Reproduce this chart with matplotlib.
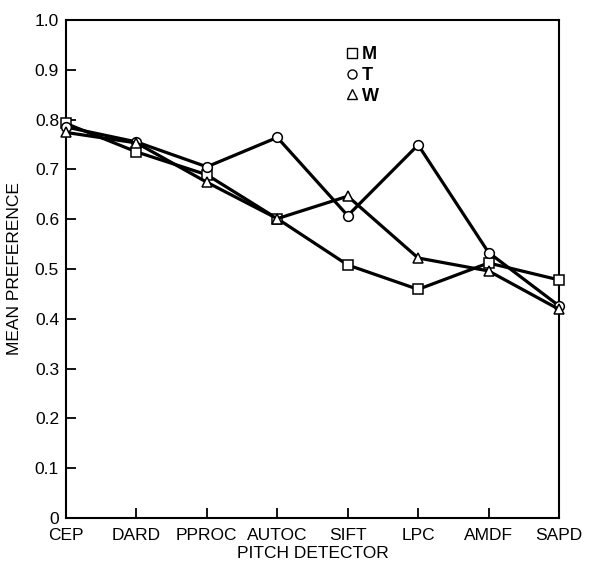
import numpy as np
import matplotlib.pyplot as plt
from matplotlib.lines import Line2D

# mean preference per pitch detector
detectors = ["CEP", "DARD", "PPROC", "AUTOC", "SIFT", "LPC", "AMDF", "SAPD"]
pref_M = [0.792, 0.735, 0.689, 0.601, 0.508, 0.459, 0.512, 0.478]
pref_T = [0.785, 0.755, 0.705, 0.764, 0.607, 0.749, 0.533, 0.426]
pref_W = [0.774, 0.753, 0.674, 0.601, 0.646, 0.522, 0.496, 0.419]

plt.rcParams['font.family'] = ['Liberation Sans', 'DejaVu Sans']

fig = plt.figure(figsize=(5.97, 5.68), dpi=100)
ax = fig.add_axes([0.1106, 0.088, 0.8257, 0.877])

x = np.arange(len(detectors))
series = [("M", pref_M, 's'), ("T", pref_T, 'o'), ("W", pref_W, '^')]
for name, vals, mk in series:
    ax.plot(x, vals, color='black', linewidth=2.3, marker=mk, markersize=7,
            markerfacecolor='white', markeredgecolor='black', markeredgewidth=1.1,
            clip_on=False, zorder=3)

ax.set_xlim(0, len(detectors) - 1)
ax.set_ylim(0, 1.0)
ax.set_xticks(x)
ax.set_xticklabels(detectors)
yt = np.arange(0, 1.01, 0.1)
ax.set_yticks(yt)
ax.set_yticklabels(["0"] + ["%.1f" % v for v in yt[1:]])
ax.tick_params(direction='in', length=7, width=1.3, labelsize=12.5)
ax.tick_params(axis='x', pad=7)
ax.tick_params(axis='y', pad=5)
for s in ax.spines.values():
    s.set_linewidth(1.5)

ax.set_xlabel("PITCH DETECTOR", fontsize=12.5, labelpad=2)
ax.set_ylabel("MEAN PREFERENCE", fontsize=12.5, labelpad=9)

handles = [Line2D([], [], linestyle='none', marker=mk, markersize=6.5,
                  markerfacecolor='white', markeredgecolor='black')
           for _, _, mk in series]
ax.legend(handles, [s[0] for s in series], loc='upper left',
          bbox_to_anchor=(0.55, 0.965), frameon=False,
          prop={'size': 13, 'weight': 'bold'},
          handlelength=0.6, handletextpad=0.25, labelspacing=0.2,
          borderpad=0)

fig.savefig("out.png", dpi=100)
